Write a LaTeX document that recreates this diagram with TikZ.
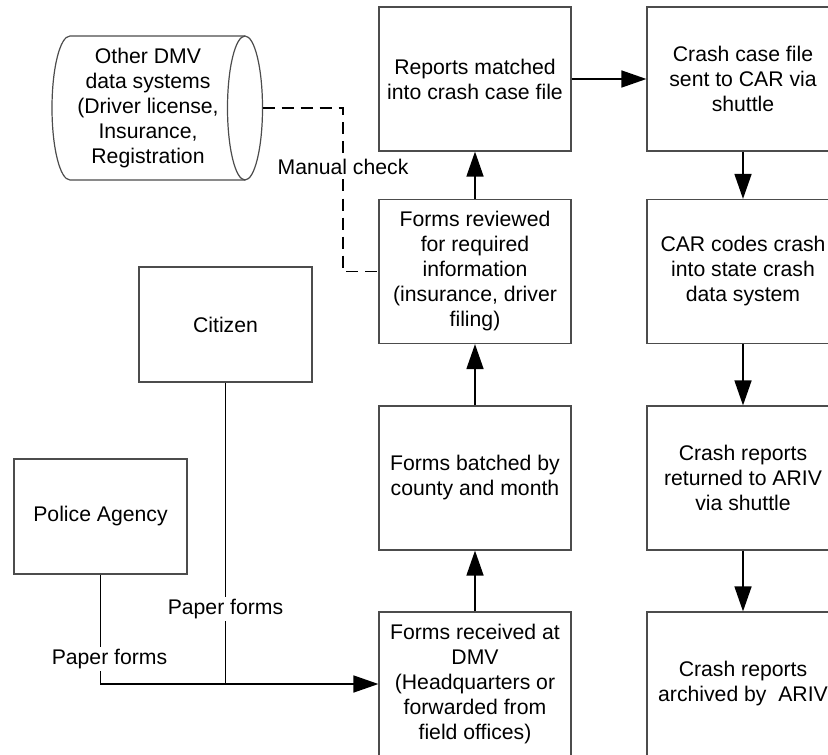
\documentclass[tikz,border=0pt]{standalone}
\usepackage{fontspec}
\setmainfont{Liberation Sans}
\usetikzlibrary{arrows.meta}

\begin{document}
\begin{tikzpicture}[x=0.5pt, y=-0.5pt,
  txt/.style={font=\fontsize{10.6}{12.5}\selectfont},
  box/.style={txt, draw=black!70, line width=0.6pt, minimum width=96pt, minimum height=72pt, inner sep=0pt, align=center},
  actor/.style={box, minimum width=86.5pt, minimum height=57.5pt},
  flow/.style={line width=0.8pt, -{Triangle[length=12.5pt, width=8.5pt]}},
  lbl/.style={txt, fill=white, inner sep=1pt}]
  \clip (0,0) rectangle (828,754);

  % DMV column
  \node[box] (matched) at (475,79) {Reports matched\\into crash case file};
  \node[box] (review) at (475,271.5) {Forms reviewed\\for required\\information\\(insurance, driver\\filing)};
  \node[box] (batch) at (475,478) {Forms batched by\\county and month};
  \node[box] (recv) at (475,684) {Forms received at\\DMV\\(Headquarters or\\forwarded from\\field offices)};

  % CAR / ARIV column
  \node[box] (sent) at (743,79) {Crash case file\\sent to CAR via\\shuttle};
  \node[box] (codes) at (743,271.5) {CAR codes crash\\into state crash\\data system};
  \node[box] (returned) at (743,478) {Crash reports\\returned to ARIV\\via shuttle};
  \node[box] (archived) at (743,684) {Crash reports\\archived by~~ARIV};

  % sources
  \node[actor] (citizen) at (225.5,324.5) {Citizen};
  \node[actor] (police) at (100.5,516.5) {Police Agency};

  % other DMV data systems (cylinder)
  \node[txt, align=center] (dmv) at (148,108) {Other DMV\\data systems\\(Driver license,\\Insurance,\\Registration};
  \draw[draw=black!70, line width=0.6pt] (245,36) -- (70,36)
    arc[start angle=-90, end angle=-270, x radius=18, y radius=72] -- (245,180);
  \draw[draw=black!70, line width=0.6pt] (245,108) ellipse[x radius=17.5, y radius=72];
  \coordinate (dmvE) at (262.5,108);
  \coordinate (chk) at (343,108);
  \coordinate (join) at (citizen.south |- recv.west);

  % flows
  \draw[flow] (recv) -- (batch);
  \draw[flow] (batch) -- (review);
  \draw[flow] (review) -- (matched);
  \draw[flow] (matched) -- (sent);
  \draw[flow] (sent) -- (codes);
  \draw[flow] (codes) -- (returned);
  \draw[flow] (returned) -- (archived);

  \draw[flow] (police.south) |- node[lbl, pos=0.386, xshift=4.5pt] {Paper forms} (recv.west);
  \draw[line width=0.8pt] (citizen.south) -- node[lbl, pos=0.75] {Paper forms} (join);

  \draw[line width=0.8pt, dash pattern=on 6pt off 3.5pt] (dmvE) -- (chk)
    |- node[lbl, pos=0.18] {Manual check} (review.west);
\end{tikzpicture}
\end{document}
